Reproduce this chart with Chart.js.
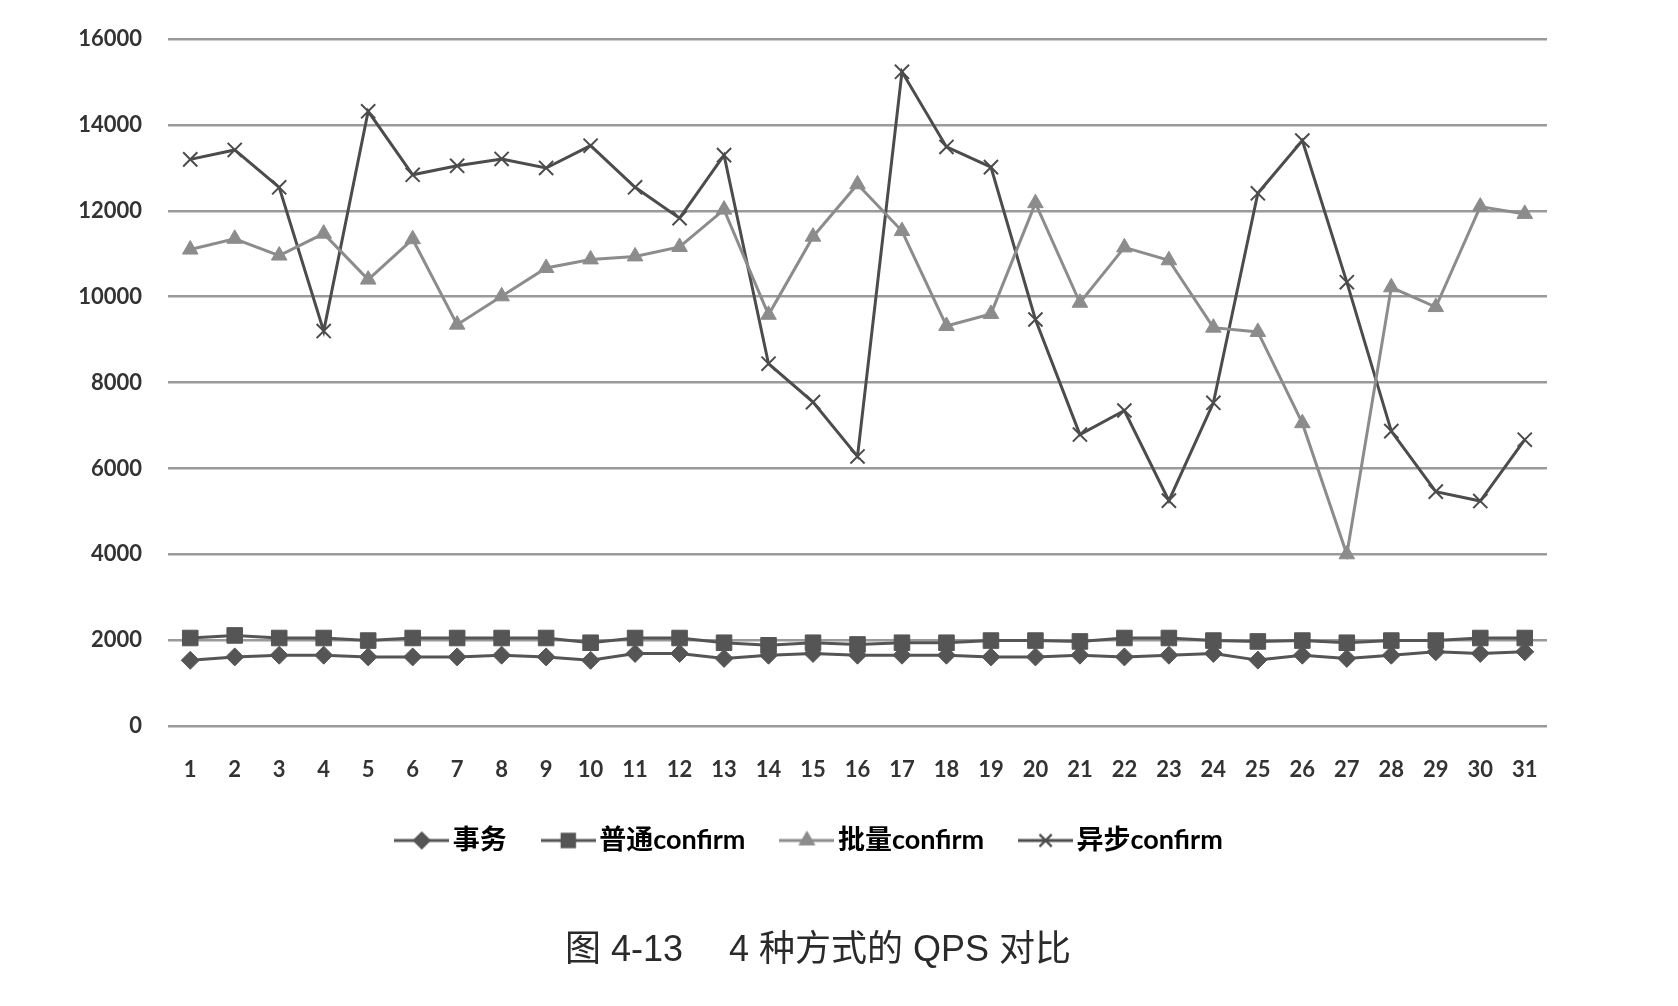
<!DOCTYPE html>
<html>
<head>
<meta charset="utf-8">
<script src="https://cdn.jsdelivr.net/npm/chart.js@4/dist/chart.umd.min.js"></script>
<style>
  html, body { margin: 0; padding: 0; background: #ffffff; }
  #wrap { position: relative; width: 1678px; height: 1006px; }
  #c { position: absolute; left: 0; top: 0; }
  #caption { position: absolute; left: 0; width: 1636px; top: 924px; text-align: center; line-height: 50px;
    font-family: "Liberation Sans", "Noto Sans CJK SC", sans-serif; font-size: 36px; color: #2a2a2a; white-space: pre; }
</style>
</head>
<body>
<div id="wrap">
  <canvas id="c" width="1678" height="1006"></canvas>
  <div id="caption">图 4-13　 4 种方式的 QPS 对比</div>
</div>
<script>
const categories = ['1','2','3','4','5','6','7','8','9','10','11','12','13','14','15','16','17','18','19','20','21','22','23','24','25','26','27','28','29','30','31'];
const seriesNames = ['事务', '普通confirm', '批量confirm', '异步confirm'];
const shiwu = [1530,1610,1650,1650,1610,1610,1610,1650,1610,1530,1690,1690,1575,1650,1690,1650,1650,1650,1610,1610,1650,1610,1650,1690,1535,1650,1575,1650,1730,1690,1730];
const putong = [2050,2110,2050,2050,1990,2050,2050,2050,2050,1940,2050,2050,1940,1880,1940,1900,1940,1940,1990,1990,1970,2050,2050,1990,1970,1990,1940,1990,1990,2050,2050];
const piliang = [11100,11350,10960,11470,10400,11340,9350,10010,10670,10870,10940,11160,12030,9580,11400,12620,11530,9320,9600,12180,9860,11150,10850,9280,9180,7055,4000,10220,9760,12100,11930];
const yibu = [13200,13420,12550,9200,14320,12840,13050,13210,13000,13520,12550,11830,13300,8440,7545,6280,15240,13490,13020,9470,6790,7350,5250,7530,12410,13640,10340,6870,5460,5240,6670];
const yTicks = [0,2000,4000,6000,8000,10000,12000,14000,16000];

const styles = [
  {color:'#555555', point:'rectRot', r:9},
  {color:'#555555', point:'rect', r:11},
  {color:'#8c8c8c', point:'triangle', r:9},
  {color:'#4c4c4c', point:'crossRot', r:10}
];

function legendIcon(st) {
  const cv = document.createElement('canvas');
  cv.width = 55; cv.height = 24;
  const ctx = cv.getContext('2d');
  ctx.strokeStyle = st.color; ctx.fillStyle = st.color; ctx.lineWidth = 3;
  ctx.beginPath(); ctx.moveTo(0, 12); ctx.lineTo(55, 12); ctx.stroke();
  ctx.lineWidth = 2;
  Chart.helpers.drawPoint(ctx, {pointStyle: st.point, radius: st.r * 0.85, borderWidth: 2, rotation: 0}, 27.5, 12);
  if (st.point !== 'crossRot') ctx.fill();
  ctx.stroke();
  return cv;
}

const dataArrays = [shiwu, putong, piliang, yibu];
const datasets = dataArrays.map((arr, i) => ({
  label: seriesNames[i],
  data: arr,
  borderColor: styles[i].color,
  backgroundColor: styles[i].color,
  borderWidth: 3,
  pointStyle: styles[i].point,
  pointRadius: styles[i].r,
  pointBorderWidth: i === 3 ? 2 : 1,
  pointBackgroundColor: styles[i].color,
  pointBorderColor: styles[i].color,
  tension: 0,
  fill: false
}));

const axisFont = { family: 'Lato, "Open Sans", sans-serif', size: 22, weight: 'bold' };

new Chart(document.getElementById('c'), {
  type: 'line',
  data: { labels: categories, datasets },
  options: {
    responsive: false,
    animation: false,
    layout: { padding: { left: 80, right: 131, top: 28, bottom: 142 } },
    plugins: {
      tooltip: { enabled: false },
      legend: {
        position: 'bottom',
        labels: {
          usePointStyle: true,
          pointStyleWidth: 35,
          padding: 44,
          color: '#333333',
          font: { family: 'Lato, "Noto Sans CJK SC", sans-serif', size: 27, weight: 'bold' },
          generateLabels: (chart) => chart.data.datasets.map((ds, i) => ({
            text: ds.label,
            fillStyle: styles[i].color,
            strokeStyle: styles[i].color,
            pointStyle: legendIcon(styles[i]),
            lineWidth: 0,
            hidden: false,
            datasetIndex: i
          }))
        }
      }
    },
    scales: {
      x: {
        offset: true,
        grid: { display: false, drawTicks: false },
        border: { display: false },
        ticks: { padding: 31, color: '#333333', font: axisFont, maxRotation: 0, autoSkip: false },
        afterFit: (s) => { s.height = 57; }
      },
      y: {
        min: 0, max: 16000,
        afterBuildTicks: (s) => { s.ticks = yTicks.map(v => ({ value: v })); },
        grid: { color: '#9a9a9a', lineWidth: 2.5, drawTicks: false },
        border: { display: false },
        ticks: { padding: 26, color: '#333333', font: axisFont, callback: (v) => String(v) },
        afterFit: (s) => { s.width = 88; }
      }
    }
  }
});
</script>
</body>
</html>
